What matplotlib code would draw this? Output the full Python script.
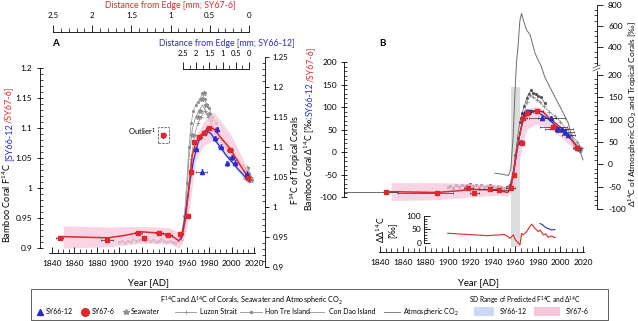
import numpy as np
import matplotlib
matplotlib.use('Agg')
import matplotlib.pyplot as plt
from matplotlib.transforms import IdentityTransform
from matplotlib.ticker import FixedLocator, FuncFormatter
from matplotlib.patches import Rectangle

plt.rcParams['font.family'] = ['Lato', 'DejaVu Sans']
plt.rcParams['mathtext.fontset'] = 'custom'
plt.rcParams['mathtext.rm'] = 'Lato'
plt.rcParams['mathtext.it'] = 'Lato:italic'
plt.rcParams['mathtext.bf'] = 'Lato:bold'

W, H = 638, 321
RED = '#e3262b'
BLUE = '#2b2bcc'
GRAY = '#8f8f8f'
DARK = '#555555'
PINK = '#f8c6db'
LBLUE = '#c9d9f6'

# ---------------- panel A : F14C ----------------
a_sy676_year = [1847, 1889, 1917, 1922, 1935.6, 1943.7, 1954.4, 1961.5, 1964, 1966.6,
                1971.3, 1975.7, 1979.6, 1998.6, 2014.4]
a_sy676_f = [0.917, 0.913, 0.925, 0.916, 0.925, 0.922, 0.924, 0.953, 1.026, 1.077,
             1.085, 1.092, 1.100, 1.063, 1.016]
a_sy676_xerr = [3, 5, 3, 2, 3, 3, 2, 1.5, 1.5, 1.5, 2, 2, 2, 3, 2]
a_outlier_year = [1939.2]
a_outlier_f = [1.088]
a_sy6612_year = [1968.3, 1973.4, 1985.5, 1986.6, 1990.3, 1996.3, 2000.1, 2003.0, 2013.5]
a_sy6612_f = [1.065, 1.027, 1.083, 1.098, 1.069, 1.041, 1.051, 1.042, 1.024]
a_sy6612_xerr = [1.5, 5, 2, 1.5, 2, 1.5, 2, 2, 1.5]

a_pred_red_year = [1850, 1870, 1890, 1905, 1920, 1935, 1945, 1950, 1953, 1956, 1959, 1962,
                   1965, 1968, 1972, 1976, 1980, 1984, 1990, 1999, 2007, 2015]
a_pred_red_f = [0.919, 0.918, 0.917, 0.921, 0.927, 0.925, 0.922, 0.916, 0.912, 0.920, 0.950,
                1.000, 1.055, 1.075, 1.087, 1.095, 1.101, 1.099, 1.085, 1.065, 1.040, 1.017]
a_pred_blue_year = [1955, 1958, 1962, 1966, 1970, 1974, 1978, 1982, 1986, 1990, 1995, 2000,
                    2005, 2010, 2016]
a_pred_blue_f = [0.915, 0.945, 1.000, 1.045, 1.075, 1.090, 1.095, 1.090, 1.078, 1.068, 1.055,
                 1.044, 1.033, 1.023, 1.010]
a_sd_red_year = [1850, 1890, 1920, 1945, 1953, 1956, 1960, 1964, 1968, 1975, 1984, 1999, 2015]
a_sd_red_lo = [0.900, 0.902, 0.908, 0.907, 0.900, 0.908, 0.935, 0.990, 1.045, 1.070, 1.080,
               1.050, 1.005]
a_sd_red_hi = [0.937, 0.935, 0.936, 0.934, 0.925, 0.935, 0.975, 1.040, 1.085, 1.110, 1.127,
               1.090, 1.030]

# tropical corals / seawater (right axis of A)
a_hontre_year = [1900, 1902.5, 1905, 1907.5, 1910, 1912.5, 1915, 1917.5, 1920, 1922.5, 1925,
                 1927.5, 1930, 1932.5, 1935, 1937.5, 1940, 1942.5, 1945, 1947.5, 1950, 1952.5,
                 1955, 1958, 1960, 1962, 1964, 1966, 1968, 1970, 1972, 1974, 1976, 1978, 1980,
                 1983, 1986]
a_hontre_f = [0.941, 0.943, 0.940, 0.944, 0.942, 0.946, 0.943, 0.945, 0.947, 0.944, 0.946,
              0.943, 0.945, 0.942, 0.944, 0.946, 0.943, 0.941, 0.944, 0.942, 0.940, 0.943,
              0.950, 0.985, 1.040, 1.100, 1.140, 1.160, 1.170, 1.175, 1.180, 1.190, 1.180,
              1.170, 1.165, 1.150, 1.140]
a_luzon_year = [1955, 1958, 1961, 1964, 1967, 1970, 1973, 1976, 1979, 1982, 1985, 1990, 1995,
                2000, 2005, 2010, 2015, 2017]
a_luzon_f = [0.945, 0.960, 1.020, 1.080, 1.120, 1.140, 1.150, 1.160, 1.150, 1.145, 1.130,
             1.115, 1.100, 1.090, 1.080, 1.070, 1.058, 1.050]
a_condao_year = [1956, 1959, 1962, 1965, 1968, 1971, 1974, 1977, 1980, 1983, 1986]
a_condao_f = [0.948, 0.990, 1.080, 1.130, 1.150, 1.160, 1.170, 1.160, 1.150, 1.130, 1.120]
a_sea_year = [1965, 1970, 1972, 1974, 1975, 1977, 1980, 1983, 2012, 2013, 2014, 2015, 2016, 2017]
a_sea_f = [1.120, 1.150, 1.160, 1.180, 1.190, 1.170, 1.155, 1.130, 1.050, 1.060, 1.065, 1.055,
           1.048, 1.045]

# ---------------- panel B : D14C ----------------
b_sy676_year = [1845.3, 1890.3, 1918.3, 1923.6, 1937.5, 1945.8, 1956, 1958.8, 1965.6, 1967,
                1970, 1978.9, 1993.7, 2014.4]
b_sy676_d = [-88, -92, -81, -90, -82, -84, -81, -51, 21, 75, 86, 91, 56, 10]
b_sy676_xlo = [56, 34, 4, 4, 10, 8, 4, 2, 2, 3, 4, 6, 12, 3]
b_sy676_xhi = [10, 14, 4, 4, 10, 8, 4, 2, 2, 3, 4, 6, 12, 3]
b_sy6612_year = [1965, 1968.5, 1971.5, 1984, 1992, 1996.7, 2001, 2004, 2007, 2015.3]
b_sy6612_d = [23, 86, 90, 75, 75, 52, 52, 45, 37, 10]
b_sy6612_xerr = [2, 3, 4, 12, 12, 10, 10, 8, 6, 3]

b_pred_red_year = [1845, 1870, 1890, 1910, 1920, 1935, 1945, 1950, 1953, 1956, 1958, 1961,
                   1964, 1967, 1970, 1975, 1980, 1985, 1990, 2000, 2008, 2015]
b_pred_red_d = [-88, -89, -90, -86, -83, -84, -85, -88, -90, -80, -50, 0, 40, 70, 82, 90, 93,
                88, 75, 55, 33, 10]
b_pred_blue_year = [1955, 1958, 1961, 1964, 1967, 1970, 1975, 1980, 1985, 1990, 1995, 2000,
                    2005, 2010, 2015]
b_pred_blue_d = [-82, -55, -5, 40, 80, 93, 92, 88, 80, 72, 60, 50, 40, 27, 12]
b_sd_red_year = [1850, 1890, 1920, 1945, 1953, 1956, 1960, 1965, 1970, 1978, 1985, 1995, 2005,
                 2015]
b_sd_red_lo = [-108, -106, -100, -96, -98, -90, -70, 0, 50, 62, 58, 45, 22, 2]
b_sd_red_hi = [-68, -68, -70, -72, -78, -70, -30, 45, 95, 102, 95, 70, 45, 18]

b_hontre_year = a_hontre_year
b_hontre_d = [-50, -48, -52, -47, -50, -46, -49, -47, -45, -48, -46, -50, -47, -50, -48, -46,
              -49, -52, -48, -50, -53, -50, -46, -20, 20, 60, 95, 115, 130, 148, 158, 166, 160,
              158, 152, 150, 137]
b_luzon_year = [1955, 1958, 1961, 1964, 1967, 1970, 1973, 1976, 1979, 1982, 1985, 1990, 1995,
                2000, 2005, 2010, 2015, 2019]
b_luzon_d = [-48, -30, 20, 70, 100, 140, 155, 150, 145, 140, 130, 118, 108, 95, 80, 65, 50, 36]
b_sea_year = [2012, 2013, 2014, 2015, 2016, 2017]
b_sea_d = [45, 40, 38, 42, 35, 33]

b_atm_year = [1942, 1948, 1954, 1956, 1958, 1959.5, 1961, 1962.5, 1964, 1965.5, 1967, 1970,
              1973, 1976, 1977.5, 1980, 1983, 1986, 1992, 2001, 2007, 2010, 2017, 2020]
b_atm_d = [-20, -22, -25, -10, 60, 150, 250, 420, 650, 720, 660, 560, 520, 400, 340, 280, 215,
           196, 166, 122, 92, 62, 32, 10]

inset_red_year = [1900, 1905, 1911, 1917, 1923, 1929, 1935, 1941, 1946, 1950, 1953, 1955.3,
                  1958.2, 1960, 1962.6, 1964.1, 1965.6, 1967, 1970, 1972, 1974.5, 1977.4, 1980.4,
                  1982, 1984.8, 1987, 1989.2, 1992, 1995.2]
inset_red_d = [36, 35, 33, 32, 30, 29, 27, 29, 30, 32, 25, 17, 30, 12, 0, -7, 36, 30, 42, 55,
               70, 54, 42, 48, 30, 34, 21, 26, 20]
inset_blue_year = [1981.9, 1984, 1986, 1988, 1990, 1992, 1995]
inset_blue_d = [72, 68, 60, 55, 52, 48, 50]

fig = plt.figure(figsize=(W / 100, H / 100), dpi=100)
gfmt = FuncFormatter(lambda v, p: f'{v:g}')


def px_axes(left, top, right, bottom):
    ax = fig.add_axes([left / W, 1 - bottom / H, (right - left) / W, (bottom - top) / H])
    ax.patch.set_visible(False)
    for s in ax.spines.values():
        s.set_visible(False)
        s.set_linewidth(0.6)
    ax.set_xticks([])
    ax.set_yticks([])
    return ax


def ptext(x, y, s, **kw):
    return fig.text(x / W, 1 - y / H, s, **kw)


def vlabel(x, yc, parts, size):
    # rotated label built from coloured pieces, bottom to top
    r = fig.canvas.get_renderer()
    objs = []
    total = 0
    for s, c, gap in parts:
        t = fig.text(x, 0, s, color=c, fontsize=size, rotation=90, rotation_mode='anchor',
                     ha='left', va='baseline', transform=IdentityTransform())
        h = t.get_window_extent(r).height
        objs.append((t, h, gap))
        total += h + gap
    y = (H - yc) - total / 2
    for t, h, gap in objs:
        t.set_y(y)
        y += h + gap


def year_axis(ax, lo, hi):
    ax.spines['bottom'].set_visible(True)
    ax.spines['bottom'].set_bounds(lo, hi)
    ax.xaxis.set_major_locator(FixedLocator(np.arange(1840, 2021, 20)))
    ax.xaxis.set_minor_locator(FixedLocator(np.arange(1840, 2021, 5)))
    ax.xaxis.set_major_formatter(gfmt)
    ax.tick_params(axis='x', which='major', direction='in', length=4, width=0.6, labelsize=6, pad=5)
    ax.tick_params(axis='x', which='minor', direction='in', length=3, width=0.5)


# ---------- panel A ----------
A_X = (1829.3, 2029.8)
axAr = px_axes(40, 57, 265, 267)
axAr.set_xlim(*A_X)
axAr.set_ylim(0.9, 1.25)
axAr.spines['right'].set_visible(True)
axAr.yaxis.tick_right()
axAr.yaxis.set_major_locator(FixedLocator(np.arange(0.9, 1.2501, 0.05)))
axAr.yaxis.set_minor_locator(FixedLocator(np.arange(0.9, 1.2501, 0.01)))
axAr.yaxis.set_major_formatter(gfmt)
axAr.tick_params(axis='y', which='major', direction='out', length=3, width=0.6, labelsize=5.8, pad=2.5)
axAr.tick_params(axis='y', which='minor', direction='in', length=2.5, width=0.5)
axAr.plot(a_hontre_year, a_hontre_f, '-', marker='.', color=GRAY, lw=0.5, ms=2.5)
axAr.plot(a_luzon_year, a_luzon_f, '-', marker='+', color=GRAY, lw=0.5, ms=3.5, mew=0.6)
axAr.plot(a_condao_year, a_condao_f, '-', color=GRAY, lw=0.6)
axAr.plot(a_sea_year, a_sea_f, '*', color=GRAY, ms=3.5)

axA = px_axes(40, 68, 265, 253)
axA.set_xlim(*A_X)
axA.set_ylim(0.8917, 1.2)
axA.spines['left'].set_visible(True)
axA.spines['left'].set_bounds(0.9, 1.2)
axA.yaxis.set_major_locator(FixedLocator(np.arange(0.9, 1.2001, 0.05)))
axA.yaxis.set_minor_locator(FixedLocator(np.arange(0.9, 1.2001, 0.01)))
axA.yaxis.set_major_formatter(gfmt)
axA.tick_params(axis='y', which='major', direction='inout', length=5, width=0.6, labelsize=6, pad=3)
axA.tick_params(axis='y', which='minor', direction='in', length=2.5, width=0.5)
year_axis(axA, 1837.5, 2021)
axA.fill_between(a_sd_red_year, a_sd_red_lo, a_sd_red_hi, color=PINK, alpha=0.75, lw=0)
axA.fill_between(a_pred_blue_year, np.array(a_pred_blue_f) - 0.004,
                 np.array(a_pred_blue_f) + 0.004, color=LBLUE, alpha=0.7, lw=0)
axA.plot(a_pred_blue_year, a_pred_blue_f, color=BLUE, lw=0.9)
axA.plot(a_pred_red_year, a_pred_red_f, color=RED, lw=1.1)
axA.errorbar(a_sy6612_year, a_sy6612_f, xerr=a_sy6612_xerr, yerr=0.004, fmt='^', ms=3,
             mfc=BLUE, mec=BLUE, ecolor=BLUE, elinewidth=0.5, capsize=1, capthick=0.5)
axA.errorbar(a_sy676_year, a_sy676_f, xerr=a_sy676_xerr, yerr=0.003, fmt='s', ms=3.2,
             mfc=RED, mec=RED, ecolor='#333333', elinewidth=0.5, capsize=1, capthick=0.5)
axA.errorbar(a_outlier_year, a_outlier_f, xerr=2, yerr=0.004, fmt='s', ms=3.2,
             mfc=RED, mec=RED, ecolor='#333333', elinewidth=0.5, capsize=1, capthick=0.5)
axA.add_patch(Rectangle((a_outlier_year[0] - 4.9, a_outlier_f[0] - 0.0135), 9.8, 0.027,
                        fill=False, ls='--', lw=0.5, ec='#444444'))
axA.text(a_outlier_year[0] - 6, a_outlier_f[0] + 0.006, 'Outlier$^{1}$', ha='right',
         va='center', fontsize=5.5)

# distance rulers
axD1 = px_axes(53, 32, 249, 33)
axD1.set_xlim(2.5, 0)
axD1.spines['top'].set_visible(True)
axD1.xaxis.tick_top()
axD1.xaxis.set_major_locator(FixedLocator(np.arange(0, 2.51, 0.5)))
axD1.xaxis.set_minor_locator(FixedLocator(np.arange(0, 2.51, 0.1)))
axD1.xaxis.set_major_formatter(gfmt)
axD1.tick_params(axis='x', which='major', direction='out', length=5, width=0.6, labelsize=5.8, pad=4)
axD1.tick_params(axis='x', which='minor', direction='out', length=3, width=0.5)

axD2 = px_axes(183, 69, 249, 70)
axD2.set_xlim(2.5, 0)
axD2.spines['top'].set_visible(True)
axD2.xaxis.tick_top()
axD2.xaxis.set_major_locator(FixedLocator(np.arange(0, 2.51, 0.5)))
axD2.xaxis.set_minor_locator(FixedLocator(np.arange(0, 2.51, 0.25)))
axD2.xaxis.set_major_formatter(gfmt)
axD2.tick_params(axis='x', which='major', direction='out', length=5, width=0.6, labelsize=5.5, pad=4)
axD2.tick_params(axis='x', which='minor', direction='out', length=3, width=0.5)

ptext(170, 6, 'Distance from Edge [mm; SY67-6]', color=RED, fontsize=6.3, ha='center', va='center')
ptext(227, 43, 'Distance from Edge [mm; SY66-12]', color=BLUE, fontsize=6.3, ha='center', va='center')
ptext(55, 44, 'A', fontsize=7, fontweight='bold', ha='center', va='center')
ptext(148, 283, 'Year [AD]', fontsize=6.8, ha='center', va='center')

vlabel(11, 165, [('Bamboo Coral F$^{14}$C', 'black', 2), ('[SY66-12', BLUE, 0),
                 ('/SY67-6]', RED, 0)], 6.6)
vlabel(299, 160, [('F$^{14}$C of Tropical Corals', 'black', 0)], 6.3)

# ---------- panel B ----------
B_X = (1808.1, 2032.4)


def brk(v):
    # right axis of panel B is broken above 200 permil and compressed
    v = np.asarray(v, float)
    return np.where(v <= 200, v, 200 + (7 + (v - 200) * 0.105) / 0.447)


axBg = px_axes(344, 62, 597, 252)
axBg.set_xlim(*B_X)
axBg.set_ylim(0, 1)
axBg.axvspan(1956, 1964, ymin=0.026, ymax=0.868, color='#dcdcdc', lw=0)

axBr = px_axes(344, 5, 597, 209)
axBr.set_xlim(*B_X)
axBr.set_ylim(-100, float(brk(800)))
axBr.spines['right'].set_visible(True)
axBr.yaxis.tick_right()
rt = [-100, -50, 0, 50, 100, 150, 200, 400, 600, 800]
axBr.set_yticks(brk(rt))
axBr.set_yticklabels([str(v) for v in rt])
axBr.yaxis.set_minor_locator(FixedLocator(np.concatenate([np.arange(-100, 201, 10),
                                                          brk(np.arange(250, 801, 50))])))
axBr.tick_params(axis='y', which='major', direction='out', length=4, width=0.6, labelsize=6, pad=4)
axBr.tick_params(axis='y', which='minor', direction='in', length=2.5, width=0.5)
axBr.plot(b_hontre_year, b_hontre_d, '-', marker='.', color=DARK, lw=0.5, ms=2.5)
axBr.plot(b_luzon_year, b_luzon_d, '-', marker='+', color=GRAY, lw=0.5, ms=3.5, mew=0.6)
axBr.plot(b_sea_year, b_sea_d, '*', color=GRAY, ms=3.5)
axBr.plot(b_atm_year, brk(b_atm_d), '-', color='#6e6e6e', lw=0.7)

axB = px_axes(344, 62, 597, 252)
axB.set_xlim(*B_X)
axB.set_ylim(-222.2, 200)
axB.spines['left'].set_visible(True)
axB.spines['left'].set_bounds(-100, 200)
axB.yaxis.set_major_locator(FixedLocator(np.arange(-100, 201, 50)))
axB.yaxis.set_minor_locator(FixedLocator(np.arange(-100, 201, 10)))
axB.yaxis.set_major_formatter(gfmt)
axB.tick_params(axis='y', which='major', direction='inout', length=5, width=0.6, labelsize=6, pad=2.5)
axB.tick_params(axis='y', which='minor', direction='in', length=2.5, width=0.5)
year_axis(axB, 1839, 2021)
axB.fill_between(b_sd_red_year, b_sd_red_lo, b_sd_red_hi, color=PINK, alpha=0.75, lw=0)
axB.fill_between(b_pred_blue_year, np.array(b_pred_blue_d) - 5, np.array(b_pred_blue_d) + 5,
                 color=LBLUE, alpha=0.7, lw=0)
axB.plot(b_pred_blue_year, b_pred_blue_d, color=BLUE, lw=0.9)
axB.plot(b_pred_red_year, b_pred_red_d, color=RED, lw=1.1)
axB.errorbar(b_sy6612_year, b_sy6612_d, xerr=b_sy6612_xerr, yerr=4, fmt='^', ms=3,
             mfc=BLUE, mec=BLUE, ecolor='#333333', elinewidth=0.5, capsize=1, capthick=0.5)
axB.errorbar(b_sy676_year, b_sy676_d, xerr=[b_sy676_xlo, b_sy676_xhi], yerr=4, fmt='s', ms=3,
             mfc=RED, mec=RED, ecolor='#333333', elinewidth=0.5, capsize=1, capthick=0.5)

axBi = px_axes(344, 213, 597, 246)
axBi.set_xlim(*B_X)
axBi.set_ylim(-11.1, 111.1)
axBi.spines['left'].set_visible(True)
axBi.spines['left'].set_position(('data', 1879))
axBi.spines['left'].set_bounds(0, 100)
axBi.yaxis.set_major_locator(FixedLocator([0, 50, 100]))
axBi.yaxis.set_minor_locator(FixedLocator(np.arange(0, 101, 10)))
axBi.yaxis.set_major_formatter(gfmt)
axBi.tick_params(axis='y', which='major', direction='in', length=4, width=0.6, labelsize=6, pad=2)
axBi.tick_params(axis='y', which='minor', direction='in', length=2.5, width=0.5)
axBi.plot(inset_red_year, inset_red_d, color=RED, lw=0.8)
axBi.plot(inset_blue_year, inset_blue_d, color=BLUE, lw=0.8)

ptext(382, 44, 'B', fontsize=7, fontweight='bold', ha='center', va='center')
ptext(478, 283, 'Year [AD]', fontsize=6.8, ha='center', va='center')
vlabel(313, 129, [('Bamboo Coral Δ$^{14}$C [‰;', 'black', 0), ('SY66-12', BLUE, 0),
                  ('/SY67-6]', RED, 0)], 6.3)
vlabel(636, 114, [('Δ$^{14}$C of Atmospheric CO$_2$ and Tropical Corals [‰]', 'black', 0)], 6.0)
vlabel(385, 230, [('ΔΔ$^{14}$C', 'black', 0)], 6.3)
vlabel(394, 230, [('[‰]', 'black', 0)], 6.3)

# ---------- legend and break mark ----------
axL = fig.add_axes([0, 0, 1, 1])
axL.set_xlim(0, W)
axL.set_ylim(H, 0)
axL.axis('off')
axL.add_patch(Rectangle((594, 66), 7, 4, color='white', zorder=5))
axL.plot([593, 600], [68, 65], color='#444444', lw=0.5, zorder=6)
axL.plot([593, 600], [71, 68], color='#444444', lw=0.5, zorder=6)

axL.add_patch(Rectangle((31, 289), 577, 31, fill=False, lw=0.6, ec='#444444'))
axL.text(252, 300, 'F$^{14}$C and Δ$^{14}$C of Corals, Seawater and Atmospheric CO$_2$',
         fontsize=5.2, ha='center', va='center')
axL.text(525, 300, 'SD Range of Predicted F$^{14}$C and Δ$^{14}$C', fontsize=4.8,
         ha='center', va='center')
ly = 312
axL.plot(40, ly, '^', color=BLUE, ms=5)
axL.text(46, ly, 'SY66-12', fontsize=5, va='center')
axL.plot(85, ly, 'o', color=RED, ms=5.5)
axL.text(92, ly, 'SY67-6', fontsize=5, va='center')
axL.plot(126, ly, '*', color=GRAY, ms=4)
axL.text(131, ly, 'Seawater', fontsize=5, va='center')
axL.plot([175, 196], [ly, ly], color=GRAY, lw=0.6)
axL.plot(185.5, ly, '+', color=GRAY, ms=3.5, mew=0.6)
axL.text(200, ly, 'Luzon Strait', fontsize=5, va='center')
axL.plot([240, 262], [ly, ly], color=GRAY, lw=0.6)
axL.plot(251, ly, '.', color=GRAY, ms=3)
axL.text(265, ly, 'Hon Tre Island', fontsize=5, va='center')
axL.plot([308, 324], [ly, ly], color=GRAY, lw=0.6)
axL.text(329, ly, 'Con Dao Island', fontsize=5, va='center')
axL.plot([384, 400], [ly, ly], color='#6e6e6e', lw=0.6)
axL.text(403, ly, 'Atmospheric CO$_2$', fontsize=5, va='center')
axL.add_patch(Rectangle((474, 307), 20, 9, color=LBLUE, lw=0))
axL.text(500, ly, 'SY66-12', fontsize=5, va='center')
axL.add_patch(Rectangle((534, 307), 26, 9, color=PINK, lw=0))
axL.text(566, ly, 'SY67-6', fontsize=5, va='center')

fig.savefig('out.png', dpi=100)
